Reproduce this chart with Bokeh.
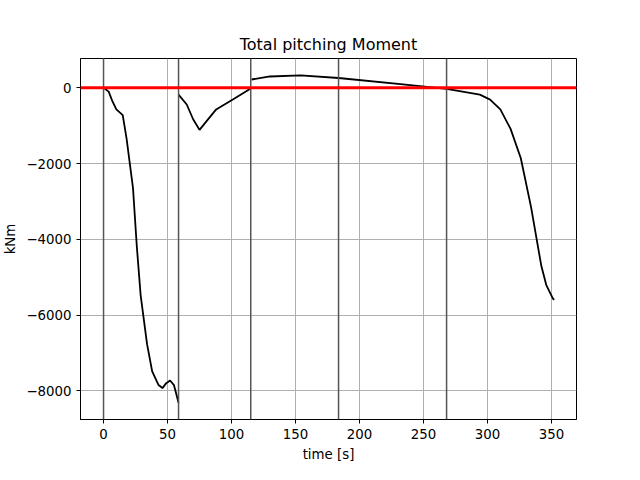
from bokeh.plotting import figure
from bokeh.models import Span, FixedTicker, Range1d
from bokeh.embed import file_html
from bokeh.resources import INLINE

# segments of the total pitching moment (time [s], kNm)
t1 = [0, 4, 7, 10, 15, 18, 23, 26, 29, 34, 38, 43, 46, 49, 52, 55, 58.6]
m1 = [0, -100, -360, -570, -720, -1340, -2640, -4190, -5480, -6770, -7490, -7850, -7930, -7800, -7730, -7850, -8320]
t2 = [58.6, 65, 70, 75, 80.5, 88, 101, 115]
m2 = [-180, -440, -830, -1110, -880, -570, -310, -20]
t3 = [115.6, 130, 154, 183.6, 232, 268, 294, 302, 310, 318, 326, 334, 342, 346, 351, 352]
m3 = [220, 300, 330, 260, 100, -25, -180, -310, -570, -1085, -1860, -3150, -4700, -5220, -5560, -5600]
phases = [0, 58.6, 115, 183.6, 268]
x_ticks = [0, 50, 100, 150, 200, 250, 300, 350]
y_ticks = [-8000, -6000, -4000, -2000, 0]

p = figure(width=624, height=464, title="Total pitching Moment",
           output_backend="svg", toolbar_location=None,
           x_range=Range1d(-18, 369.5), y_range=Range1d(-8760, 775),
           min_border_left=72, min_border_right=48, min_border_top=58, min_border_bottom=37)
p.title.align = "center"
p.title.text_font_size = "12pt"
p.title.text_font_style = "normal"
p.title.text_font = "DejaVu Sans"
p.title.text_color = "black"
p.xaxis.axis_label = "time [s]"
p.yaxis.axis_label = "kNm"
for ax in (p.xaxis, p.yaxis):
    ax.axis_label_text_font_style = "normal"
    ax.axis_label_text_font = "DejaVu Sans"
    ax.axis_label_text_font_size = "10pt"
    ax.axis_label_text_color = "black"
    ax.major_label_text_font = "DejaVu Sans"
    ax.major_label_text_font_size = "10pt"
    ax.major_label_text_color = "black"
    ax.minor_tick_line_color = None
    ax.major_tick_in = 0
    ax.major_tick_out = 4
p.xaxis.ticker = FixedTicker(ticks=x_ticks)
p.yaxis.ticker = FixedTicker(ticks=y_ticks)
p.yaxis.major_label_orientation = "horizontal"
p.grid.grid_line_color = "#b0b0b0"
p.grid.grid_line_alpha = 1.0
p.outline_line_color = "black"

for loc in phases:
    p.add_layout(Span(location=loc, dimension="height", line_color="#555555", line_width=1.5))
p.add_layout(Span(location=0, dimension="width", line_color="red", line_width=3))

for t, m in ((t1, m1), (t2, m2), (t3, m3)):
    p.line(t, m, line_color="black", line_width=1.8)

open("out.html", "w").write(file_html(p, INLINE))
